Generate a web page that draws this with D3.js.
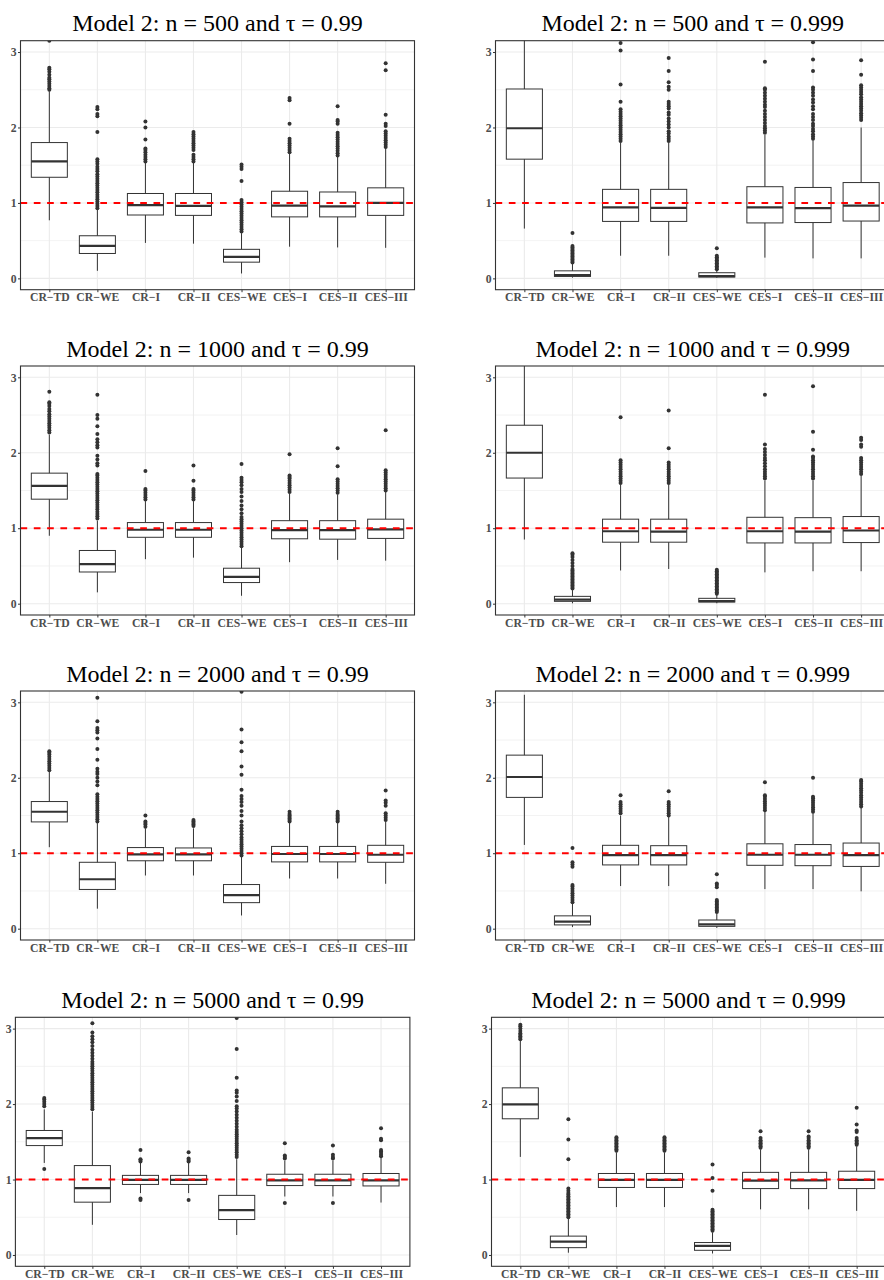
<!DOCTYPE html>
<html>
<head>
<meta charset="utf-8">
<script src="https://cdn.jsdelivr.net/npm/d3@7"></script>
<style>
  body { margin: 0; background: #fff; }
  svg { display: block; }
  .tick text { font-family: "Liberation Serif", "Times New Roman", serif; font-weight: bold; font-size: 11.7px; fill: #4d4d4d; }
  .tick line { stroke: #333; }
</style>
</head>
<body>
<div id="chart"></div>
<script>
// estimators on the x axis
var categories = ["CR\u2212TD", "CR\u2212WE", "CR\u2212I", "CR\u2212II", "CES\u2212WE", "CES\u2212I", "CES\u2212II", "CES\u2212III"];
var sampleSizes = [500, 500, 1000, 1000, 2000, 2000, 5000, 5000];
var tauLevels = ["0.99", "0.999", "0.99", "0.999", "0.99", "0.999", "0.99", "0.999"];
var yTicks = [0, 1, 2, 3];
var yMinor = [0.5, 1.5, 2.5];
var refValue = 1;

// box stats per estimator: [lower whisker, q1, median, q3, upper whisker]
var stats_500_99 = [
  [0.77, 1.34, 1.55, 1.80, 2.48], [0.10, 0.33, 0.43, 0.565, 0.91], [0.47, 0.84, 0.97, 1.125, 1.53], [0.46, 0.835, 0.96, 1.125, 1.53],
  [0.065, 0.215, 0.285, 0.385, 0.60], [0.42, 0.815, 0.965, 1.155, 1.65], [0.41, 0.815, 0.955, 1.145, 1.62], [0.405, 0.835, 1.00, 1.20, 1.73]];
var out_500_99 = [
  [2.50, 2.52, 2.55, 2.58, 2.61, 2.64, 2.66, 2.70, 2.74, 2.77, 2.79, 3.15],
  [0.93, 0.96, 0.99, 1.02, 1.05, 1.08, 1.11, 1.14, 1.17, 1.20, 1.23, 1.26, 1.29, 1.32, 1.35, 1.38, 1.42, 1.45, 1.48, 1.52, 1.55, 1.58, 1.94, 2.15, 2.18, 2.24, 2.27],
  [1.55, 1.58, 1.61, 1.64, 1.67, 1.70, 1.72, 1.84, 2.00, 2.08],
  [1.55, 1.58, 1.61, 1.64, 1.70, 1.73, 1.76, 1.79, 1.82, 1.85, 1.88, 1.91, 1.94],
  [0.62, 0.65, 0.68, 0.71, 0.74, 0.77, 0.80, 0.83, 0.86, 0.89, 0.92, 0.95, 0.98, 1.01, 1.04, 1.29, 1.45, 1.48, 1.51],
  [1.67, 1.70, 1.73, 1.76, 1.79, 1.82, 1.85, 2.05, 2.36, 2.39],
  [1.63, 1.66, 1.69, 1.72, 1.75, 1.78, 1.81, 1.84, 1.87, 1.90, 1.93, 2.05, 2.08, 2.10, 2.28],
  [1.74, 1.77, 1.80, 1.83, 1.86, 1.89, 1.92, 1.95, 2.02, 2.05, 2.17, 2.76, 2.85]];

var stats_500_999 = [
  [0.66, 1.58, 1.99, 2.51, 3.40], [0.01, 0.026, 0.044, 0.10, 0.20], [0.30, 0.755, 0.94, 1.18, 1.80], [0.30, 0.755, 0.935, 1.18, 1.80],
  [0.008, 0.018, 0.031, 0.075, 0.11], [0.275, 0.735, 0.94, 1.215, 1.90], [0.265, 0.74, 0.93, 1.205, 1.83], [0.265, 0.76, 0.965, 1.27, 2.00]];
var out_500_999 = [
  [],
  [0.21, 0.23, 0.25, 0.27, 0.29, 0.31, 0.33, 0.35, 0.37, 0.39, 0.41, 0.43, 0.60],
  [1.82, 1.85, 1.88, 1.91, 1.94, 1.97, 2.00, 2.03, 2.06, 2.09, 2.12, 2.15, 2.18, 2.21, 2.24, 2.34, 2.57, 3.02, 3.12],
  [1.82, 1.85, 1.88, 1.92, 1.95, 2.00, 2.04, 2.08, 2.12, 2.17, 2.20, 2.25, 2.28, 2.31, 2.34, 2.50, 2.54, 2.60, 2.75, 2.92],
  [0.12, 0.14, 0.16, 0.18, 0.20, 0.22, 0.24, 0.26, 0.28, 0.30, 0.40],
  [1.93, 1.96, 1.99, 2.02, 2.06, 2.10, 2.14, 2.18, 2.22, 2.27, 2.30, 2.34, 2.38, 2.42, 2.46, 2.50, 2.52, 2.87],
  [1.85, 1.88, 1.91, 1.95, 1.98, 2.02, 2.05, 2.10, 2.14, 2.18, 2.24, 2.28, 2.33, 2.37, 2.42, 2.46, 2.50, 2.53, 2.75, 2.90, 3.13],
  [2.10, 2.13, 2.16, 2.19, 2.22, 2.25, 2.28, 2.31, 2.34, 2.37, 2.40, 2.44, 2.47, 2.50, 2.53, 2.56, 2.70, 2.89]];

var stats_1000_99 = [
  [0.90, 1.385, 1.56, 1.73, 2.24], [0.15, 0.42, 0.525, 0.705, 1.10], [0.59, 0.88, 0.98, 1.075, 1.36], [0.61, 0.88, 0.98, 1.075, 1.36],
  [0.105, 0.28, 0.355, 0.47, 0.74], [0.55, 0.86, 0.975, 1.10, 1.46], [0.58, 0.855, 0.975, 1.10, 1.45], [0.57, 0.865, 0.985, 1.12, 1.48]];
var out_1000_99 = [
  [2.27, 2.30, 2.33, 2.36, 2.39, 2.42, 2.45, 2.48, 2.51, 2.55, 2.58, 2.62, 2.65, 2.67, 2.81],
  [1.13, 1.16, 1.19, 1.22, 1.25, 1.28, 1.31, 1.34, 1.37, 1.40, 1.43, 1.46, 1.49, 1.52, 1.55, 1.58, 1.61, 1.64, 1.67, 1.70, 1.72, 1.83, 1.86, 1.91, 1.96, 2.07, 2.10, 2.14, 2.18, 2.25, 2.35, 2.45, 2.50, 2.77],
  [1.38, 1.41, 1.44, 1.47, 1.50, 1.52, 1.76],
  [1.38, 1.41, 1.44, 1.47, 1.50, 1.52, 1.63, 1.83],
  [0.76, 0.79, 0.82, 0.85, 0.88, 0.91, 0.94, 0.97, 1.00, 1.03, 1.06, 1.09, 1.12, 1.15, 1.20, 1.25, 1.30, 1.36, 1.42, 1.48, 1.52, 1.57, 1.61, 1.64, 1.67, 1.85],
  [1.48, 1.51, 1.54, 1.57, 1.60, 1.63, 1.66, 1.68, 1.70, 1.98],
  [1.47, 1.50, 1.53, 1.56, 1.59, 1.62, 1.65, 1.82, 2.06],
  [1.50, 1.53, 1.56, 1.59, 1.62, 1.65, 1.68, 1.71, 1.74, 1.77, 2.30]];

var stats_1000_999 = [
  [0.85, 1.665, 2.00, 2.365, 3.40], [0.005, 0.031, 0.053, 0.097, 0.18], [0.44, 0.815, 0.96, 1.12, 1.58], [0.46, 0.815, 0.955, 1.12, 1.58],
  [0.005, 0.022, 0.035, 0.071, 0.12], [0.415, 0.805, 0.96, 1.145, 1.63], [0.43, 0.805, 0.955, 1.14, 1.63], [0.43, 0.81, 0.97, 1.155, 1.70]];
var out_1000_999 = [
  [],
  [0.20, 0.22, 0.24, 0.26, 0.28, 0.30, 0.32, 0.34, 0.36, 0.38, 0.40, 0.42, 0.44, 0.46, 0.50, 0.54, 0.58, 0.62, 0.65, 0.67],
  [1.60, 1.63, 1.66, 1.69, 1.72, 1.75, 1.78, 1.81, 1.84, 1.87, 1.90, 2.47],
  [1.60, 1.63, 1.66, 1.69, 1.72, 1.75, 1.78, 1.81, 1.84, 1.87, 2.06, 2.56],
  [0.13, 0.15, 0.17, 0.19, 0.21, 0.23, 0.25, 0.27, 0.29, 0.31, 0.33, 0.35, 0.37, 0.39, 0.41, 0.43, 0.45],
  [1.66, 1.69, 1.72, 1.75, 1.78, 1.82, 1.86, 1.90, 1.93, 1.97, 2.01, 2.05, 2.11, 2.77],
  [1.66, 1.69, 1.72, 1.75, 1.78, 1.81, 1.84, 1.87, 1.90, 1.93, 1.95, 2.04, 2.28, 2.88],
  [1.72, 1.75, 1.78, 1.81, 1.84, 1.87, 1.90, 1.93, 2.08, 2.11, 2.17, 2.20]];

var stats_2000_99 = [
  [1.08, 1.415, 1.55, 1.685, 2.08], [0.265, 0.52, 0.655, 0.88, 1.40], [0.705, 0.90, 0.985, 1.075, 1.33], [0.705, 0.90, 0.985, 1.07, 1.33],
  [0.175, 0.345, 0.445, 0.585, 0.95], [0.665, 0.885, 0.99, 1.09, 1.40], [0.665, 0.885, 0.99, 1.09, 1.40], [0.595, 0.88, 0.98, 1.105, 1.42]];
var out_2000_99 = [
  [2.10, 2.13, 2.16, 2.19, 2.22, 2.25, 2.28, 2.31, 2.33, 2.35],
  [1.42, 1.45, 1.48, 1.51, 1.54, 1.57, 1.60, 1.63, 1.66, 1.69, 1.72, 1.75, 1.78, 1.90, 1.95, 2.00, 2.05, 2.08, 2.12, 2.24, 2.38, 2.52, 2.60, 2.63, 2.66, 2.75, 3.06],
  [1.35, 1.38, 1.40, 1.42, 1.50],
  [1.36, 1.38, 1.40, 1.42, 1.44],
  [0.97, 1.00, 1.03, 1.06, 1.09, 1.12, 1.15, 1.18, 1.21, 1.25, 1.29, 1.33, 1.37, 1.42, 1.50, 1.56, 1.63, 1.68, 1.72, 1.76, 1.84, 2.04, 2.15, 2.35, 2.47, 2.64, 3.14],
  [1.42, 1.44, 1.46, 1.48, 1.50, 1.52, 1.55],
  [1.42, 1.44, 1.46, 1.48, 1.50, 1.52, 1.55],
  [1.44, 1.47, 1.50, 1.53, 1.63, 1.67, 1.70, 1.83]];

var stats_2000_999 = [
  [1.11, 1.74, 2.01, 2.30, 3.10], [0.022, 0.05, 0.093, 0.17, 0.33], [0.565, 0.845, 0.975, 1.105, 1.50], [0.565, 0.845, 0.975, 1.10, 1.48],
  [0.01, 0.031, 0.057, 0.115, 0.20], [0.525, 0.84, 0.98, 1.125, 1.55], [0.525, 0.835, 0.98, 1.115, 1.53], [0.495, 0.825, 0.975, 1.135, 1.60]];
var out_2000_999 = [
  [],
  [0.35, 0.38, 0.41, 0.44, 0.47, 0.50, 0.53, 0.56, 0.58, 0.82, 0.85, 0.88, 1.07],
  [1.53, 1.56, 1.59, 1.62, 1.65, 1.68, 1.77],
  [1.50, 1.53, 1.56, 1.59, 1.62, 1.65, 1.68, 1.82],
  [0.22, 0.24, 0.26, 0.28, 0.30, 0.32, 0.34, 0.36, 0.38, 0.55, 0.58, 0.60, 0.72],
  [1.57, 1.60, 1.63, 1.66, 1.69, 1.72, 1.75, 1.77, 1.94],
  [1.55, 1.58, 1.61, 1.64, 1.67, 1.70, 1.73, 1.75, 2.00],
  [1.62, 1.65, 1.68, 1.71, 1.74, 1.77, 1.80, 1.83, 1.86, 1.89, 1.92, 1.95, 1.97]];

var stats_5000_99 = [
  [1.22, 1.45, 1.55, 1.65, 1.93], [0.40, 0.70, 0.885, 1.185, 1.90], [0.82, 0.935, 0.995, 1.055, 1.22], [0.82, 0.935, 0.995, 1.055, 1.22],
  [0.265, 0.47, 0.595, 0.79, 1.27], [0.775, 0.92, 0.99, 1.07, 1.25], [0.775, 0.92, 0.99, 1.07, 1.25], [0.695, 0.915, 0.99, 1.08, 1.30]];
var out_5000_99 = [
  [1.14, 1.97, 2.00, 2.03, 2.06, 2.08],
  [1.93, 1.96, 1.99, 2.02, 2.05, 2.08, 2.11, 2.14, 2.17, 2.20, 2.23, 2.26, 2.29, 2.32, 2.35, 2.38, 2.41, 2.44, 2.47, 2.50, 2.53, 2.56, 2.60, 2.64, 2.68, 2.72, 2.77, 2.82, 2.86, 2.90, 2.95, 3.07],
  [0.73, 0.75, 1.24, 1.26, 1.27, 1.39],
  [0.73, 1.24, 1.26, 1.28, 1.36],
  [1.30, 1.33, 1.36, 1.39, 1.42, 1.45, 1.48, 1.51, 1.54, 1.57, 1.60, 1.63, 1.66, 1.70, 1.74, 1.78, 1.82, 1.86, 1.90, 1.94, 1.97, 2.04, 2.10, 2.15, 2.18, 2.35, 2.73, 3.14],
  [0.69, 1.28, 1.30, 1.32, 1.48],
  [0.69, 1.28, 1.30, 1.33, 1.45],
  [1.31, 1.33, 1.35, 1.37, 1.39, 1.52, 1.54, 1.68]];

var stats_5000_999 = [
  [1.30, 1.805, 1.995, 2.215, 2.84], [0.03, 0.097, 0.177, 0.25, 0.48], [0.635, 0.895, 0.995, 1.08, 1.36], [0.635, 0.895, 0.995, 1.08, 1.36],
  [0.02, 0.062, 0.12, 0.165, 0.30], [0.605, 0.88, 0.985, 1.095, 1.40], [0.605, 0.88, 0.99, 1.095, 1.40], [0.585, 0.88, 0.995, 1.11, 1.44]];
var out_5000_999 = [
  [2.86, 2.88, 2.90, 2.92, 2.94, 2.97, 3.00, 3.03, 3.05],
  [0.50, 0.52, 0.54, 0.56, 0.58, 0.60, 0.62, 0.64, 0.66, 0.68, 0.70, 0.72, 0.74, 0.76, 0.78, 0.80, 0.82, 0.85, 0.88, 1.27, 1.53, 1.80],
  [1.38, 1.40, 1.42, 1.44, 1.46, 1.48, 1.50, 1.52, 1.54, 1.56],
  [1.38, 1.40, 1.42, 1.44, 1.46, 1.48, 1.50, 1.52, 1.54, 1.56],
  [0.32, 0.34, 0.36, 0.38, 0.40, 0.42, 0.44, 0.46, 0.48, 0.50, 0.52, 0.54, 0.56, 0.58, 0.60, 0.85, 1.02, 1.20],
  [1.42, 1.44, 1.46, 1.48, 1.50, 1.52, 1.55, 1.64],
  [1.42, 1.44, 1.46, 1.48, 1.50, 1.52, 1.55, 1.57, 1.64],
  [1.46, 1.48, 1.50, 1.52, 1.55, 1.63, 1.65, 1.73, 1.95]];

var allStats = [stats_500_99, stats_500_999, stats_1000_99, stats_1000_999, stats_2000_99, stats_2000_999, stats_5000_99, stats_5000_999];
var allOut = [out_500_99, out_500_999, out_1000_99, out_1000_999, out_2000_99, out_2000_999, out_5000_99, out_5000_999];

//--------------------------
// layout (pixels)
var W = 884, H = 1280;
var rowTop = [40.7, 366, 691, 1017.3];
var panelH = 249;
var colX = [[20.5, 414.5], [495.5, 890]];
var colXLast = [[15.4, 409.9], [491.5, 885.5]];
var serif = '"Liberation Serif", "Times New Roman", serif';

var svg = d3.select("#chart").append("svg")
    .attr("width", W)
    .attr("height", H);

svg.append("rect").attr("width", W).attr("height", H).attr("fill", "#fff");

// note: can't use a global named "top" (window.top), so keep the loop in a function
function drawAll() {
    for (var p = 0; p < 8; p++) {
        var row = Math.floor(p / 2), col = p % 2;
        var xr = (row == 3 ? colXLast : colX)[col];
        var y0 = rowTop[row];
        drawPanel(p, xr[0], xr[1], y0, y0 + panelH);
    }
}

function drawPanel(p, left, right, pTop, pBottom) {
    var stats = allStats[p], outs = allOut[p];

    var x = d3.scalePoint().domain(categories).range([left, right]).padding(0.6);
    var y = d3.scaleLinear().domain([-0.15, 3.15]).range([pBottom, pTop]);
    var bw = x.step() * 0.75;

    var g = svg.append("g");

    var clipId = "clip" + p;
    svg.append("clipPath").attr("id", clipId)
        .append("rect")
        .attr("x", left).attr("y", pTop)
        .attr("width", right - left).attr("height", pBottom - pTop);

    var inner = g.append("g").attr("clip-path", "url(#" + clipId + ")");

    // grid
    inner.selectAll("line.minor").data(yMinor).enter().append("line")
        .attr("x1", left).attr("x2", right)
        .attr("y1", function(d) { return y(d); }).attr("y2", function(d) { return y(d); })
        .attr("stroke", "#ebebeb").attr("stroke-width", 0.6);
    inner.selectAll("line.major").data(yTicks).enter().append("line")
        .attr("x1", left).attr("x2", right)
        .attr("y1", function(d) { return y(d); }).attr("y2", function(d) { return y(d); })
        .attr("stroke", "#ebebeb").attr("stroke-width", 1.1);
    inner.selectAll("line.vgrid").data(categories).enter().append("line")
        .attr("x1", function(d) { return x(d); }).attr("x2", function(d) { return x(d); })
        .attr("y1", pTop).attr("y2", pBottom)
        .attr("stroke", "#ebebeb").attr("stroke-width", 1.1);

    // boxes
    var boxes = inner.selectAll("g.box").data(stats).enter().append("g");
    boxes.append("line")
        .attr("x1", function(d, i) { return x(categories[i]); })
        .attr("x2", function(d, i) { return x(categories[i]); })
        .attr("y1", function(d) { return y(d[0]); })
        .attr("y2", function(d) { return y(d[4]); })
        .attr("stroke", "#333").attr("stroke-width", 1);
    boxes.append("rect")
        .attr("x", function(d, i) { return x(categories[i]) - bw / 2; })
        .attr("width", bw)
        .attr("y", function(d) { return y(d[3]); })
        .attr("height", function(d) { return y(d[1]) - y(d[3]); })
        .attr("fill", "#fff").attr("stroke", "#333").attr("stroke-width", 1);
    boxes.append("line")
        .attr("x1", function(d, i) { return x(categories[i]) - bw / 2; })
        .attr("x2", function(d, i) { return x(categories[i]) + bw / 2; })
        .attr("y1", function(d) { return y(d[2]); })
        .attr("y2", function(d) { return y(d[2]); })
        .attr("stroke", "#333").attr("stroke-width", 2.2);

    // outliers
    var pts = [];
    outs.forEach(function(arr, i) {
        arr.forEach(function(v) { pts.push([categories[i], v]); });
    });
    inner.selectAll("circle").data(pts).enter().append("circle")
        .attr("cx", function(d) { return x(d[0]); })
        .attr("cy", function(d) { return y(d[1]); })
        .attr("r", 2)
        .attr("fill", "#333");

    // reference line
    inner.append("line")
        .attr("x1", left).attr("x2", right)
        .attr("y1", y(refValue)).attr("y2", y(refValue))
        .attr("stroke", "red").attr("stroke-width", 2)
        .attr("stroke-dasharray", "6.7,6.6");

    // border
    g.append("rect")
        .attr("x", left).attr("y", pTop)
        .attr("width", right - left).attr("height", pBottom - pTop)
        .attr("fill", "none").attr("stroke", "#333").attr("stroke-width", 1.1);

    // axes
    var ay = g.append("g").attr("transform", "translate(" + left + ",0)")
        .call(d3.axisLeft(y).tickValues(yTicks).tickSize(2.5).tickPadding(1.3).tickFormat(d3.format("d")));
    ay.select(".domain").remove();

    var ax = g.append("g").attr("transform", "translate(0," + pBottom + ")")
        .call(d3.axisBottom(x).tickSize(2.5).tickPadding(0.8));
    ax.select(".domain").remove();

    // title
    g.append("text")
        .attr("x", (left + right) / 2)
        .attr("y", pTop - 9.5)
        .attr("text-anchor", "middle")
        .attr("font-family", serif)
        .attr("font-size", 24)
        .attr("fill", "#000")
        .text("Model 2: n = " + sampleSizes[p] + " and \u03c4 = " + tauLevels[p]);
}

drawAll();
</script>
</body>
</html>
